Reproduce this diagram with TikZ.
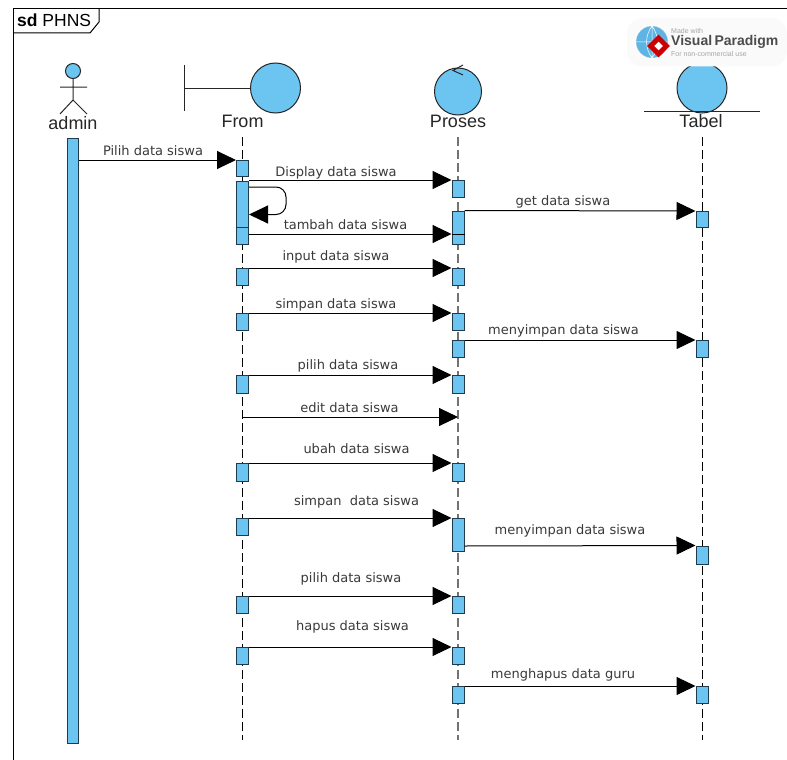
\documentclass[tikz,border=0pt]{standalone}
\usepackage{fontspec}
\setmainfont{Liberation Sans}
\newfontfamily\msgfont{DejaVu Sans}
\usetikzlibrary{arrows.meta}
\definecolor{barblue}{HTML}{6CC5F1}
\definecolor{bardark}{HTML}{1D3B4C}
\definecolor{msgtext}{HTML}{3A3A3A}
\definecolor{wmgray}{HTML}{A5A5A5}
\definecolor{wmblue}{HTML}{5FB4E6}
\tikzset{
  bar/.style={draw=bardark,fill=barblue,line width=1pt,minimum width=12pt,inner sep=0pt,anchor=north},
  msg/.style={draw=black,line width=1pt,-{Triangle[length=19pt,width=18pt]}},
  msglabel/.style={font=\msgfont\fontsize{13}{15}\selectfont,text=msgtext,inner sep=0pt},
  headlabel/.style={font=\fontsize{18}{20}\selectfont,text=black!85,inner sep=0pt},
  life/.style={draw=black,line width=1pt,dash pattern=on 9pt off 4pt},
  lifegray/.style={draw=black!55,line width=1.6pt,dash pattern=on 9pt off 4pt},
  shapeline/.style={draw=black!85,line width=1pt},
  headcircle/.style={draw=black!85,fill=barblue,line width=1pt,circle,inner sep=0pt},
}
\begin{document}
\begin{tikzpicture}[x=1pt,y=-1pt]
\useasboundingbox (0,0) rectangle (787,760);
\fill[white] (0,0) rectangle (787,760);
% frame
\draw[black,line width=1pt] (13,760) -- (13,9) -- (787,9);
\draw[black,line width=1pt] (99,9) -- (99,22) -- (90,33) -- (13,33);
\node[anchor=west,inner sep=0pt,font=\fontsize{17.5}{19}\selectfont] (frametitle) at (17,20.5) {\textbf{sd} PHNS};
% lifeline ends
\coordinate (ft) at (242.5,137); \coordinate (fe) at (242.5,740);
\coordinate (pt) at (458,137);   \coordinate (pe) at (458,740);
\coordinate (tt) at (702,137);   \coordinate (te) at (702,740);
\draw[life] (ft) -- (fe);
\draw[lifegray] (pt) -- (pe);
\draw[life] (tt) -- (te);
% heads
\node[shapeline,circle,fill=barblue,minimum size=15pt,inner sep=0pt] (ahead) at (73,71) {};
\coordinate (ahip) at (73,100);
\coordinate (aarml) at (60,87); \coordinate (aarmr) at (87,87);
\coordinate (alegl) at (60,114); \coordinate (alegr) at (87,114);
\draw[shapeline] (ahead) -- (ahip) (aarml) -- (aarmr) (alegl) -- (ahip) -- (alegr);
\node[headlabel] (admin) at (73,123) {admin};
\node[headcircle,minimum size=50pt] (fcirc) at (275.5,88) {};
\coordinate (fbt) at (184.5,65); \coordinate (fbb) at (184.5,111);
\draw[shapeline] (fbt) -- (fbb);
\coordinate (fbm) at (184.5,88);
\draw[shapeline] (fbm) -- (fcirc);
\node[headlabel] (from) at (242.5,121) {From};
\node[headcircle,minimum size=47pt] (pcirc) at (458,91.5) {};
\coordinate (pa1) at (463,65); \coordinate (pa2) at (453,70.5); \coordinate (pa3) at (463,75);
\draw[shapeline] (pa1) -- (pa2) -- (pa3);
\node[headlabel] (proses) at (458,121) {Proses};
\node[headcircle,minimum size=50pt] (tcirc) at (702,88) {};
\coordinate (tl) at (644,111); \coordinate (tr) at (760,111);
\draw[shapeline] (tl) -- (tr);
\node[headlabel] (tabel) at (701,121) {Tabel};
% watermark
\fill[black!2,rounded corners=16pt] (627,18) rectangle (787,66.5);
\node[circle,fill=white,minimum size=35pt,inner sep=0pt] (wmback) at (652,42) {};
\node[circle,draw=black!15,fill=wmblue,minimum size=32pt,inner sep=0pt] (globe) at (652,42) {};
\draw[white,line width=.5pt] (globe.west) -- (globe.east) (globe.north) -- (globe.south)
  (globe.north) to[bend left=35] (globe.south) (globe.north) to[bend right=35] (globe.south);
\node[fill=red!80!black,rotate=45,minimum size=16pt,inner sep=0pt] (wmred) at (658.5,46) {};
\node[fill=white,rotate=45,minimum size=6pt,inner sep=0pt] (wmwhite) at (658.5,46) {};
\node[anchor=west,inner sep=0pt,font=\fontsize{7}{8}\selectfont,text=wmgray] (wm1) at (671,30.5) {Made with};
\node[anchor=west,inner sep=0pt,font=\bfseries\fontsize{14}{16}\selectfont,text=black!70] (wm2) at (671,42) {Visual\,Paradigm};
\node[anchor=west,inner sep=0pt,font=\fontsize{7}{8}\selectfont,text=wmgray] (wm3) at (671,53.5) {For non-commercial use};
% activation bars
\node[bar,minimum width=11.5pt,minimum height=605pt] (abar) at (73.2,138) {};
\node[bar,minimum height=16pt] (f1) at (242.5,160) {};
\node[bar,minimum height=46pt] (f2) at (242.5,181) {};
\node[bar,minimum height=17pt] (f3) at (242.5,227) {};
\node[bar,minimum height=17pt] (f4) at (242.5,268) {};
\node[bar,minimum height=17pt] (f5) at (242.5,313) {};
\node[bar,minimum height=18pt] (f6) at (242.5,375) {};
\coordinate (f7) at (242.5,417);
\node[bar,minimum height=18pt] (f8) at (242.5,463) {};
\node[bar,minimum height=17pt] (f9) at (242.5,518) {};
\node[bar,minimum height=17pt] (f10) at (242.5,596) {};
\node[bar,minimum height=17pt] (f11) at (242.5,647) {};
\node[bar,minimum height=17pt] (p1) at (458,180) {};
\node[bar,minimum height=33pt] (p2) at (458,210.5) {};
\node[bar,minimum height=17pt] (p3) at (458,268) {};
\node[bar,minimum height=17pt] (p4) at (458,313) {};
\node[bar,minimum height=17pt] (p5) at (458,340) {};
\node[bar,minimum height=18pt] (p6) at (458,375) {};
\coordinate (p7) at (458,417);
\node[bar,minimum height=18pt] (p8) at (458,463) {};
\node[bar,minimum height=33pt] (p9) at (458,518) {};
\node[bar,minimum height=17pt] (p10) at (458,596) {};
\node[bar,minimum height=17pt] (p11) at (458,647) {};
\node[bar,minimum height=17pt] (p12) at (458,686) {};
\node[bar,minimum height=16pt] (t1) at (702,211) {};
\node[bar,minimum height=17pt] (t2) at (702,340) {};
\node[bar,minimum height=18pt] (t3) at (702,545.5) {};
\node[bar,minimum height=17pt] (t4) at (702,686) {};
% messages
\draw[msg] (abar.east |- f1.north) -- (f1.north west);
\draw[msg] (f2.east |- p1.north) -- (p1.north west);
\coordinate (s1) at (286,187);
\coordinate (s2) at (286,214.5);
\draw[msg,rounded corners=10pt] (f2.east |- s1) -- (s1) -- (s2) -- (f2.east |- s2);
\coordinate (y3) at (300,234);
\draw[msg] (f3.east |- y3) -- (p2.west |- y3);
\draw[black,line width=1pt] (p2.west |- y3) -- (p2.east |- y3);
\draw[msg] (p2.north east) -- (t1.north west);
\draw[msg] (f4.north east) -- (p3.north west);
\draw[msg] (f5.north east) -- (p4.north west);
\draw[msg] (p5.north east) -- (t2.north west);
\draw[msg] (f6.north east) -- (p6.north west);
\draw[msg] (f7) -- (p7);
\draw[msg] (f8.north east) -- (p8.north west);
\draw[msg] (f9.north east) -- (p9.north west);
\coordinate (y9) at (600,546);
\draw[msg] (p9.east |- y9) -- (t3.north west);
\draw[msg] (f10.north east) -- (p10.north west);
\draw[msg] (f11.north east) -- (p11.north west);
\draw[msg] (p12.north east) -- (t4.north west);
% labels
\node[msglabel] (l1) at (153,151) {Pilih data siswa};
\node[msglabel] (l2) at (336,172.5) {Display data siswa};
\node[msglabel] (l3) at (345.5,225) {tambah data siswa};
\node[msglabel] (l4) at (563,202) {get data siswa};
\node[msglabel] (l5) at (336,257) {input data siswa};
\node[msglabel] (l6) at (336,305) {simpan data siswa};
\node[msglabel] (l7) at (563.5,331) {menyimpan data siswa};
\node[msglabel] (l8) at (348,366) {pilih data siswa};
\node[msglabel] (l9) at (349.5,408) {edit data siswa};
\node[msglabel] (l10) at (356.5,449) {ubah data siswa};
\node[msglabel] (l11) at (356.5,502) {simpan\ \ data siswa};
\node[msglabel] (l12) at (570,531) {menyimpan data siswa};
\node[msglabel] (l13) at (351,579) {pilih data siswa};
\node[msglabel] (l14) at (352.5,627) {hapus data siswa};
\node[msglabel] (l15) at (563,675) {menghapus data guru};
\end{tikzpicture}
\end{document}
